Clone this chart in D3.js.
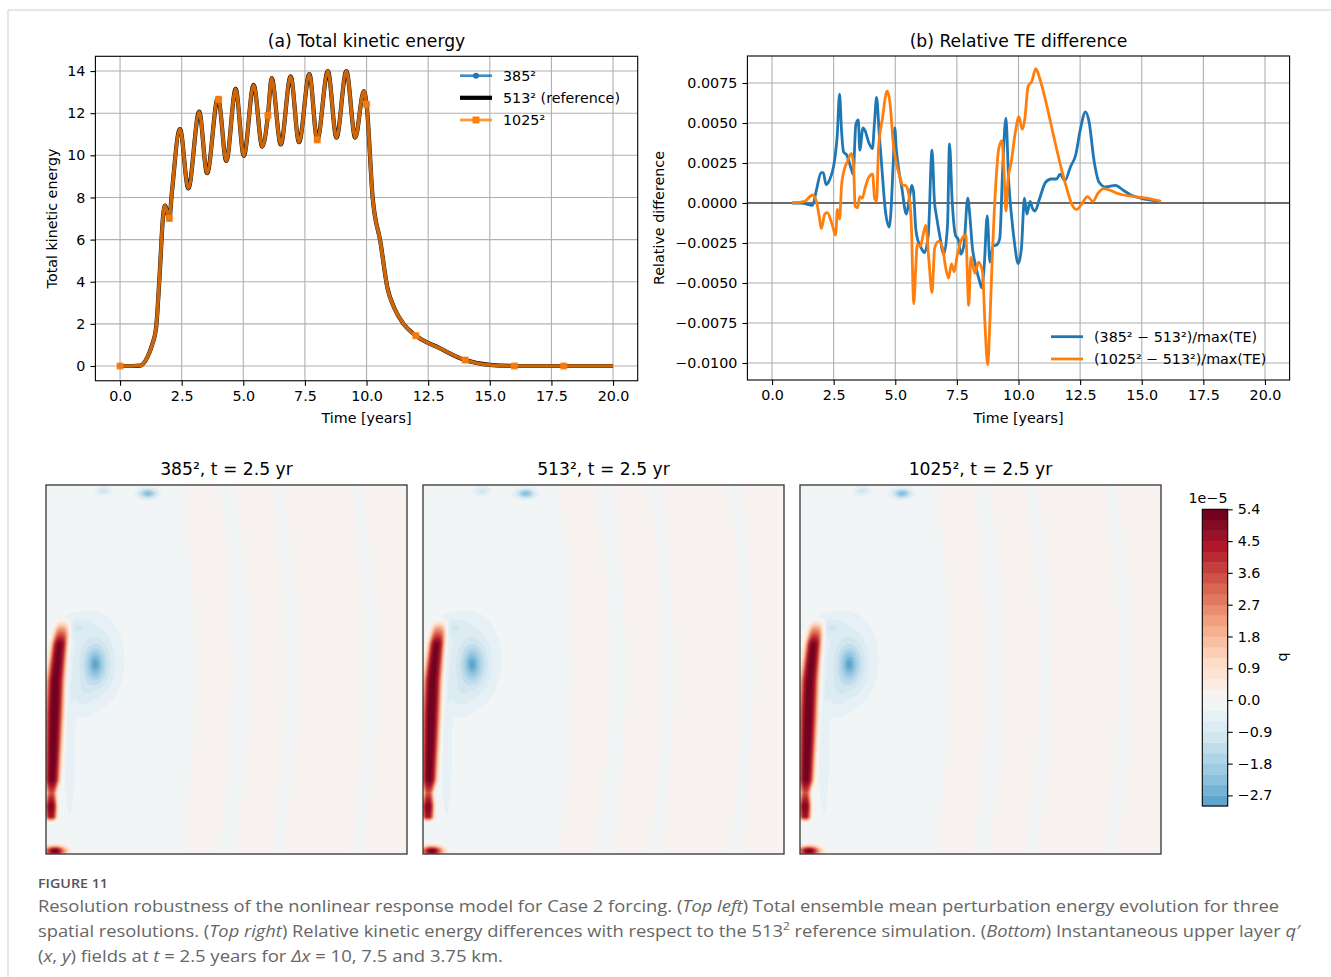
<!DOCTYPE html>
<html><head><meta charset="utf-8">
<script src="https://cdn.jsdelivr.net/npm/d3@7"></script>
<style>body{margin:0;background:#fff}svg{display:block}</style>
</head><body>
<svg id="fig" width="1331" height="977"></svg>
<script>
// ---------------- DATA ----------------
// (a) Total kinetic energy
const teTime = [0,0.5,0.82,1.1,1.3,1.46,1.6,1.75,1.82,2.0,2.1,2.43,2.77,3.21,3.53,3.97,4.0,4.31,4.69,5.02,5.42,5.77,6.0,6.15,6.52,6.92,7.26,7.68,8.0,8.43,8.78,9.18,9.54,9.89,10.0,10.25,10.56,10.85,11.13,11.5,12.0,12.98,14.0,15.0,16.0,18.0,20.0];
const te513  = [0,0,0.02,0.4,1.0,1.79,4.2,7.17,7.61,7.0,8.2,11.25,8.43,12.07,9.15,12.72,12.66,9.73,13.15,9.98,13.34,10.41,11.9,13.66,10.52,13.75,10.62,13.86,10.73,14.0,10.84,14.0,10.84,13.05,12.42,7.96,5.9,3.69,2.74,2.0,1.44,0.84,0.28,0.05,0,0,0];
const te385  = te513.slice();
const te1025 = te513.slice();
const teMarkerTimes = [0,2,4,6,8,10,12,14,16,18];
const teSeriesNames = ["385\u00b2","513\u00b2 (reference)","1025\u00b2"];
const teXTicks = [0,2.5,5,7.5,10,12.5,15,17.5,20];
const teYTicks = [0,2,4,6,8,10,12,14];

// (b) Relative TE difference
const d385Time = [0.82,1.2,1.48,1.64,1.8,1.99,2.08,2.19,2.32,2.55,2.64,2.74,2.82,2.9,3.03,3.22,3.29,3.4,3.5,3.56,3.69,3.78,3.92,4.07,4.16,4.24,4.35,4.48,4.6,4.76,4.92,4.98,5.04,5.14,5.26,5.45,5.58,5.67,5.74,5.83,5.93,6.05,6.18,6.34,6.49,6.59,6.68,6.81,6.97,7.12,7.2,7.31,7.44,7.56,7.66,7.79,7.94,8.02,8.13,8.26,8.42,8.51,8.61,8.73,8.84,8.97,9.13,9.24,9.36,9.49,9.6,9.71,9.83,9.99,10.12,10.24,10.34,10.47,10.56,10.67,10.86,11.1,11.33,11.54,11.69,11.88,12.12,12.32,12.51,12.72,12.86,13.07,13.27,13.54,13.93,14.25,14.56,14.96,15.78];
const d385 = [0,0,-0.0001,-0.00015,0.0008,0.0019,0.0019,0.00115,0.0014,0.0028,0.0041,0.0068,0.0045,0.0032,0.003,0.0021,0.0018,0.0049,0.0052,0.0033,0.0047,0.0045,0.0038,0.0034,0.0051,0.0066,0.0043,0.0017,-0.0005,-0.0015,0.0026,0.0047,0.0034,0.0021,0.001,-0.0007,0.0004,0.0011,0.0007,-0.0016,-0.0024,-0.0028,-0.0031,-0.002,0.0033,0.0001,-0.0009,-0.0021,-0.0032,-0.0014,0.0037,0.0001,-0.002,-0.0023,-0.0032,-0.0026,0.0003,-0.0007,-0.0028,-0.0039,-0.0049,-0.0053,-0.0039,-0.0008,-0.0037,-0.0027,-0.0026,-0.0022,0.0022,0.0053,0.0014,-0.0007,-0.0024,-0.0038,-0.0028,0.0003,-0.0007,0.0001,-0.0003,-0.0005,0.0003,0.0013,0.0015,0.0015,0.0018,0.0014,0.0023,0.003,0.0046,0.0057,0.0051,0.0026,0.0013,0.001,0.0011,0.0008,0.0005,0.0003,0.0001];
const d1025Time = [0.82,1.32,1.64,1.8,1.92,2.0,2.14,2.24,2.43,2.58,2.65,2.74,2.82,2.9,3.06,3.22,3.31,3.37,3.47,3.56,3.66,3.77,3.92,4.08,4.16,4.24,4.32,4.48,4.67,4.79,4.92,5.03,5.19,5.3,5.42,5.55,5.66,5.71,5.75,5.83,5.89,6.02,6.13,6.24,6.37,6.49,6.6,6.76,6.92,7.03,7.16,7.28,7.39,7.5,7.66,7.86,7.98,8.07,8.23,8.38,8.54,8.64,8.75,8.84,8.94,9.08,9.2,9.33,9.41,9.49,9.57,9.71,9.87,10.02,10.15,10.26,10.39,10.54,10.7,10.86,11.1,11.41,11.73,11.96,12.17,12.36,12.59,12.8,13.02,13.22,13.46,13.7,14.01,14.25,14.72,15.19,15.78];
const d1025 = [0,0.0001,0.0005,0.0001,-0.0009,-0.0016,-0.0007,-0.0006,-0.0013,-0.002,-0.0004,-0.001,0.0011,0.0019,0.0026,0.0031,0.0023,-0.0002,-0.0003,0.0004,0.0003,0.0009,0.0016,0.0018,0.0003,0.0001,0.0034,0.0053,0.007,0.0062,0.0037,0.0026,0.0016,0.0011,0.0011,0.0005,-0.0016,-0.0049,-0.0063,-0.0041,-0.0026,-0.0027,-0.002,-0.0014,-0.0037,-0.0056,-0.0028,-0.0024,-0.0028,-0.0039,-0.0047,-0.0038,-0.0043,-0.0034,-0.0024,-0.002,-0.0064,-0.0034,-0.0044,-0.0037,-0.0043,-0.0076,-0.0101,-0.0074,-0.0032,0.0012,0.0034,0.0039,0.002,-0.0005,0.0014,0.0026,0.0044,0.0054,0.0046,0.0053,0.0073,0.0076,0.0084,0.0078,0.0064,0.0043,0.0022,0.0009,-0.0001,-0.0004,0,0.0004,0.0001,0.0006,0.0009,0.0008,0.0006,0.0005,0.0004,0.0003,0.0001];
const diffNames = ["(385\u00b2 \u2212 513\u00b2)/max(TE)","(1025\u00b2 \u2212 513\u00b2)/max(TE)"];
const diffXTicks = [0,2.5,5,7.5,10,12.5,15,17.5,20];
const diffYTicks = [-0.01,-0.0075,-0.005,-0.0025,0,0.0025,0.005,0.0075];

// Bottom: q' field features (units 1e-5, positions as fraction of panel, y from top)
const panelTitles = ["385\u00b2, t = 2.5 yr","513\u00b2, t = 2.5 yr","1025\u00b2, t = 2.5 yr"];
const qLevels = [-3.0,-2.7,-2.4,-2.1,-1.8,-1.5,-1.2,-0.9,-0.6,-0.3,0.0,0.3,0.6,0.9,1.2,1.5,1.8,2.1,2.4,2.7,3.0,3.3,3.6,3.9,4.2,4.5,4.8,5.1,5.4];
const cbTicks = [-2.7,-1.8,-0.9,0.0,0.9,1.8,2.7,3.6,4.5,5.4];
const rdbuColors = ["#67001f","#b2182b","#d6604d","#f4a582","#fddbc7","#f7f7f7","#d1e5f0","#92c5de","#4393c3","#2166ac","#053061"];
// western boundary current ridge
const jetY   = [0.36,0.39,0.43,0.53,0.62,0.71,0.80,0.835,0.87,0.90,0.915];
const jetX   = [0.050,0.045,0.038,0.027,0.023,0.020,0.017,0.015,0.014,0.014,0.014];
const jetW   = [0.020,0.021,0.021,0.024,0.024,0.022,0.020,0.013,0.016,0.015,0.012];
const jetAmp = [0,3.0,5.4,5.4,5.4,5.4,5.3,3.6,5.3,4.6,0];
// eddies / blobs
const blobX   = [0.136,0.14,0.12,0.075,0.065,0.10,0.025];
const blobY   = [0.486,0.49,0.46,0.385,0.70,0.57,0.992];
const blobSx  = [0.018,0.042,0.075,0.045,0.014,0.03,0.03];
const blobSy  = [0.032,0.07,0.10,0.025,0.18,0.05,0.013];
const blobAmp = [-1.1,-1.2,-0.45,-0.6,-0.45,-0.4,5.6];
// top edge blobs per panel
const topBlobX = [[0.159,0.283],[0.163,0.285],[0.172,0.283]];
const topBlobY = [0.016,0.023];
const topBlobSx = [0.018,0.024];
const topBlobSy = [0.010,0.012];
const topBlobAmp = [-1.0,-2.3];
// faint background stripes
const bgBase = 0.12;
const bgX   = [0.15,0.36,0.50,0.64,0.86];
const bgW   = [0.20,0.012,0.025,0.02,0.02];
const bgAmp = [-0.30,-0.2,-0.25,-0.2,-0.2];
const bgPow = [4,2,2,2,2];
const bgBow = 0.04;

// ---------------- DRAW ----------------
const svg = d3.select("#fig");
const FONT = "DejaVu Sans";
svg.append("rect").attr("width",1331).attr("height",977).attr("fill","#fff");
svg.append("path").attr("d","M8,977V10H1331").attr("fill","none").attr("stroke","#cfcfcf").attr("stroke-width",1);

function makeAxes(g, x, y, xticks, yticks, xfmt, yfmt) {
  const [x0,x1] = x.range(), [y0,y1] = y.range();
  const grid = g.append("g");
  grid.selectAll(".vx").data(xticks).join("line").attr("x1",d=>x(d)).attr("x2",d=>x(d)).attr("y1",y1).attr("y2",y0)
    .attr("stroke","#b0b0b0").attr("stroke-width",1.1);
  grid.selectAll(".hy").data(yticks).join("line").attr("y1",d=>y(d)).attr("y2",d=>y(d)).attr("x1",x0).attr("x2",x1)
    .attr("stroke","#b0b0b0").attr("stroke-width",1.1);
  return function finish() {
    const ax = g.append("g").attr("transform",`translate(0,${y0})`)
      .call(d3.axisBottom(x).tickValues(xticks).tickFormat(xfmt).tickSize(5).tickPadding(5).tickSizeOuter(0));
    const ay = g.append("g").attr("transform",`translate(${x0},0)`)
      .call(d3.axisLeft(y).tickValues(yticks).tickFormat(yfmt).tickSize(5).tickPadding(5).tickSizeOuter(0));
    [ax,ay].forEach(a => {
      a.select(".domain").remove();
      a.selectAll("line").attr("stroke","#000").attr("stroke-width",1.1);
      a.selectAll("text").attr("font-family",FONT).attr("font-size",14.3).attr("fill","#000");
    });
    ax.selectAll("text").attr("dy","0.71em");
    g.append("rect").attr("x",x0).attr("y",y1).attr("width",x1-x0).attr("height",y0-y1)
      .attr("fill","none").attr("stroke","#000").attr("stroke-width",1.1);
  };
}
function txt(g, x, y, s, size, anchor, rot) {
  const t = g.append("text").attr("x",x).attr("y",y).attr("font-family",FONT).attr("font-size",size)
    .attr("text-anchor",anchor||"middle").attr("fill","#000").text(s);
  if (rot) t.attr("transform",`rotate(${rot},${x},${y})`);
  return t;
}

// ---- (a)
const gA = svg.append("g");
const xA = d3.scaleLinear().domain([-1,21]).range([95.4,637.7]);
const yA = d3.scaleLinear().domain([-0.7,14.7]).range([380.75,56.3]);
const finA = makeAxes(gA, xA, yA, teXTicks, teYTicks, d3.format(".1f"), d3.format("d"));
const lineA = d3.line().x((d,i)=>xA(teTime[i])).y(d=>yA(d)).curve(d3.curveMonotoneX);
const markIdx = teMarkerTimes.map(t => teTime.indexOf(t));
gA.append("path").attr("d",lineA(te385)).attr("fill","none").attr("stroke","#1f77b4").attr("stroke-width",2.1);
gA.selectAll(".m385").data(markIdx).join("circle").attr("cx",i=>xA(teTime[i])).attr("cy",i=>yA(te385[i])).attr("r",3).attr("fill","#1f77b4");
gA.append("path").attr("d",lineA(te513)).attr("fill","none").attr("stroke","#000").attr("stroke-width",4.2);
gA.append("path").attr("d",lineA(te1025)).attr("fill","none").attr("stroke","#ff7f0e").attr("stroke-opacity",0.8).attr("stroke-width",3.6);
gA.selectAll(".m1025").data(markIdx).join("rect").attr("x",i=>xA(teTime[i])-3.5).attr("y",i=>yA(te1025[i])-3.5)
  .attr("width",7).attr("height",7).attr("fill","#ff7f0e").attr("fill-opacity",0.85);
finA();
txt(gA, 366.5, 47, "(a) Total kinetic energy", 17.2);
txt(gA, 366.5, 423, "Time [years]", 14.3);
txt(gA, 57, 218.5, "Total kinetic energy", 14.3, "middle", -90);
// legend (a)
const legA = gA.append("g");
const legAy = [75.7, 97.8, 120];
legA.append("line").attr("x1",460).attr("x2",492).attr("y1",legAy[0]).attr("y2",legAy[0]).attr("stroke","#1f77b4").attr("stroke-width",2.6).attr("stroke-opacity",0.85);
legA.append("circle").attr("cx",476).attr("cy",legAy[0]).attr("r",3).attr("fill","#1f77b4");
legA.append("line").attr("x1",460).attr("x2",492).attr("y1",legAy[1]).attr("y2",legAy[1]).attr("stroke","#000").attr("stroke-width",4.2);
legA.append("line").attr("x1",460).attr("x2",492).attr("y1",legAy[2]).attr("y2",legAy[2]).attr("stroke","#ff7f0e").attr("stroke-width",2.8).attr("stroke-opacity",0.8);
legA.append("rect").attr("x",472.5).attr("y",legAy[2]-3.5).attr("width",7).attr("height",7).attr("fill","#ff7f0e");
teSeriesNames.forEach((s,i)=>txt(legA, 503, legAy[i]+5, s, 14.3, "start"));

// ---- (b)
const gB = svg.append("g");
const xB = d3.scaleLinear().domain([-1,21]).range([747.4,1289.6]);
const yB = d3.scaleLinear().domain([-0.011063,0.0091875]).range([380,56]);
const finB = makeAxes(gB, xB, yB, diffXTicks, diffYTicks, d3.format(".1f"), d3.format(".4f"));
gB.append("line").attr("x1",747.4).attr("x2",1289.6).attr("y1",yB(0)).attr("y2",yB(0)).attr("stroke","#000").attr("stroke-width",1.1);
gB.append("path").attr("d",d3.line().x((d,i)=>xB(d385Time[i])).y(d=>yB(d)).curve(d3.curveMonotoneX)(d385))
  .attr("fill","none").attr("stroke","#1f77b4").attr("stroke-width",2.8).attr("stroke-linejoin","round");
gB.append("path").attr("d",d3.line().x((d,i)=>xB(d1025Time[i])).y(d=>yB(d)).curve(d3.curveMonotoneX)(d1025))
  .attr("fill","none").attr("stroke","#ff7f0e").attr("stroke-width",2.8).attr("stroke-linejoin","round");
finB();
txt(gB, 1018.5, 47, "(b) Relative TE difference", 17.2);
txt(gB, 1018.5, 423, "Time [years]", 14.3);
txt(gB, 664, 218, "Relative difference", 14.3, "middle", -90);
const legBy = [336.7, 359];
[["#1f77b4",0],["#ff7f0e",1]].forEach(([c,i])=>{
  gB.append("line").attr("x1",1051).attr("x2",1083).attr("y1",legBy[i]).attr("y2",legBy[i]).attr("stroke",c).attr("stroke-width",2.8);
  txt(gB, 1094, legBy[i]+5, diffNames[i], 14.3, "start");
});

// ---- bottom fields
const cmap = d3.scaleLinear().domain(d3.range(11).map(i => -5.4 + i*1.08)).range(rdbuColors.slice().reverse()).interpolate(d3.interpolateRgb);
function lerpArr(xs, vs, v) {
  if (v <= xs[0]) return vs[0];
  const n = xs.length;
  if (v >= xs[n-1]) return vs[n-1];
  let i = 1; while (xs[i] < v) i++;
  const t = (v - xs[i-1])/(xs[i]-xs[i-1]);
  return vs[i-1] + t*(vs[i]-vs[i-1]);
}
function qValue(p, fx, fy) {
  let v = bgBase;
  const bow = bgBow*(1 - Math.pow((fy-0.5)/0.5,2));
  for (let k=0;k<bgX.length;k++) v += bgAmp[k]*Math.exp(-Math.pow(Math.abs(fx-bgX[k]-bow)/bgW[k], bgPow[k]));
  if (fy >= jetY[0] && fy <= jetY[jetY.length-1]) {
    const cx = lerpArr(jetY,jetX,fy), w = lerpArr(jetY,jetW,fy), a = lerpArr(jetY,jetAmp,fy);
    v += a*Math.exp(-Math.pow(Math.abs(fx-cx)/w,3));
  }
  for (let k=0;k<blobX.length;k++) v += blobAmp[k]*Math.exp(-(Math.pow((fx-blobX[k])/blobSx[k],2)+Math.pow((fy-blobY[k])/blobSy[k],2)));
  for (let k=0;k<topBlobY.length;k++) v += topBlobAmp[k]*Math.exp(-(Math.pow((fx-topBlobX[p][k])/topBlobSx[k],2)+Math.pow((fy-topBlobY[k])/topBlobSy[k],2)));
  return Math.max(-2.99, Math.min(5.39, v));
}
const panelX = [46,423,800], panelY = 485, panelW = 361, panelH = 369;
const GN = 180, GM = 184;
panelTitles.forEach((title, p) => {
  const vals = new Float64Array(GN*GM);
  for (let j=0;j<GM;j++) for (let i=0;i<GN;i++) vals[j*GN+i] = qValue(p, (i+0.5)/GN, (j+0.5)/GM);
  const cs = d3.contours().size([GN,GM]).thresholds(qLevels.slice(0,-1))(vals);
  const g = svg.append("g").attr("transform",`translate(${panelX[p]},${panelY}) scale(${panelW/GN},${panelH/GM})`);
  g.selectAll("path").data(cs).join("path").attr("d", d3.geoPath())
    .attr("fill", d => { const i = qLevels.indexOf(d.value); return cmap((qLevels[i]+qLevels[i+1])/2); });
  svg.append("rect").attr("x",panelX[p]).attr("y",panelY).attr("width",panelW).attr("height",panelH)
    .attr("fill","none").attr("stroke","#333").attr("stroke-width",1.3);
  txt(svg, panelX[p]+panelW/2, 475, title, 17.2);
});

// colorbar
const cbX = 1202.3, cbW = 25.4;
const cbY = d3.scaleLinear().domain([-3.0,5.4]).range([806,509.3]);
const cbg = svg.append("g");
cbg.selectAll("rect").data(qLevels.slice(0,-1)).join("rect")
  .attr("x",cbX).attr("width",cbW).attr("y",(d,i)=>cbY(qLevels[i+1])).attr("height",(d,i)=>cbY(qLevels[i])-cbY(qLevels[i+1])+0.4)
  .attr("fill",(d,i)=>cmap((qLevels[i]+qLevels[i+1])/2));
const cba = cbg.append("g").attr("transform",`translate(${cbX+cbW},0)`)
  .call(d3.axisRight(cbY).tickValues(cbTicks).tickFormat(d3.format(".1f")).tickSize(5).tickPadding(5).tickSizeOuter(0));
cba.select(".domain").remove();
cba.selectAll("line").attr("stroke","#000").attr("stroke-width",1.1);
cba.selectAll("text").attr("font-family",FONT).attr("font-size",14.3).attr("fill","#000");
cbg.append("rect").attr("x",cbX).attr("y",509.3).attr("width",cbW).attr("height",806-509.3).attr("fill","none").attr("stroke","#000").attr("stroke-width",1.1);
txt(cbg, 1208, 503, "1e\u22125", 14.3);
txt(cbg, 1287, 657, "q", 14.3, "middle", -90);

// caption
const cap = svg.append("g").attr("font-family","Open Sans").attr("fill","#666");
cap.append("text").attr("x",38).attr("y",888).attr("font-size",13).attr("font-weight",600).attr("fill","#555")
  .attr("textLength",70).attr("lengthAdjust","spacingAndGlyphs").text("FIGURE 11");
function capLine(y, len, parts) {
  const t = cap.append("text").attr("x",38).attr("y",y).attr("font-size",17).attr("textLength",len).attr("lengthAdjust","spacingAndGlyphs");
  parts.forEach(pt => {
    const s = t.append("tspan").text(pt[0]);
    if (pt[1]==="i") s.attr("font-style","italic");
    if (pt[1]==="sup") s.attr("font-size",11).attr("dy",-7);
    if (pt[1]==="after") s.attr("dy",7);
  });
}
capLine(912, 1241, [["Resolution robustness of the nonlinear response model for Case 2 forcing. ("],["Top left","i"],[") Total ensemble mean perturbation energy evolution for three"]]);
capLine(937, 1262, [["spatial resolutions. ("],["Top right","i"],[") Relative kinetic energy differences with respect to the 513"],["2","sup"],[" reference simulation. (","after"],["Bottom","i"],[") Instantaneous upper layer "],["q\u2032","i"]]);
capLine(962, 465, [["("],["x","i"],[", "],["y","i"],[") fields at "],["t","i"],[" = 2.5 years for "],["\u0394x","i"],[" = 10, 7.5 and 3.75 km."]]);
</script>
</body></html>
